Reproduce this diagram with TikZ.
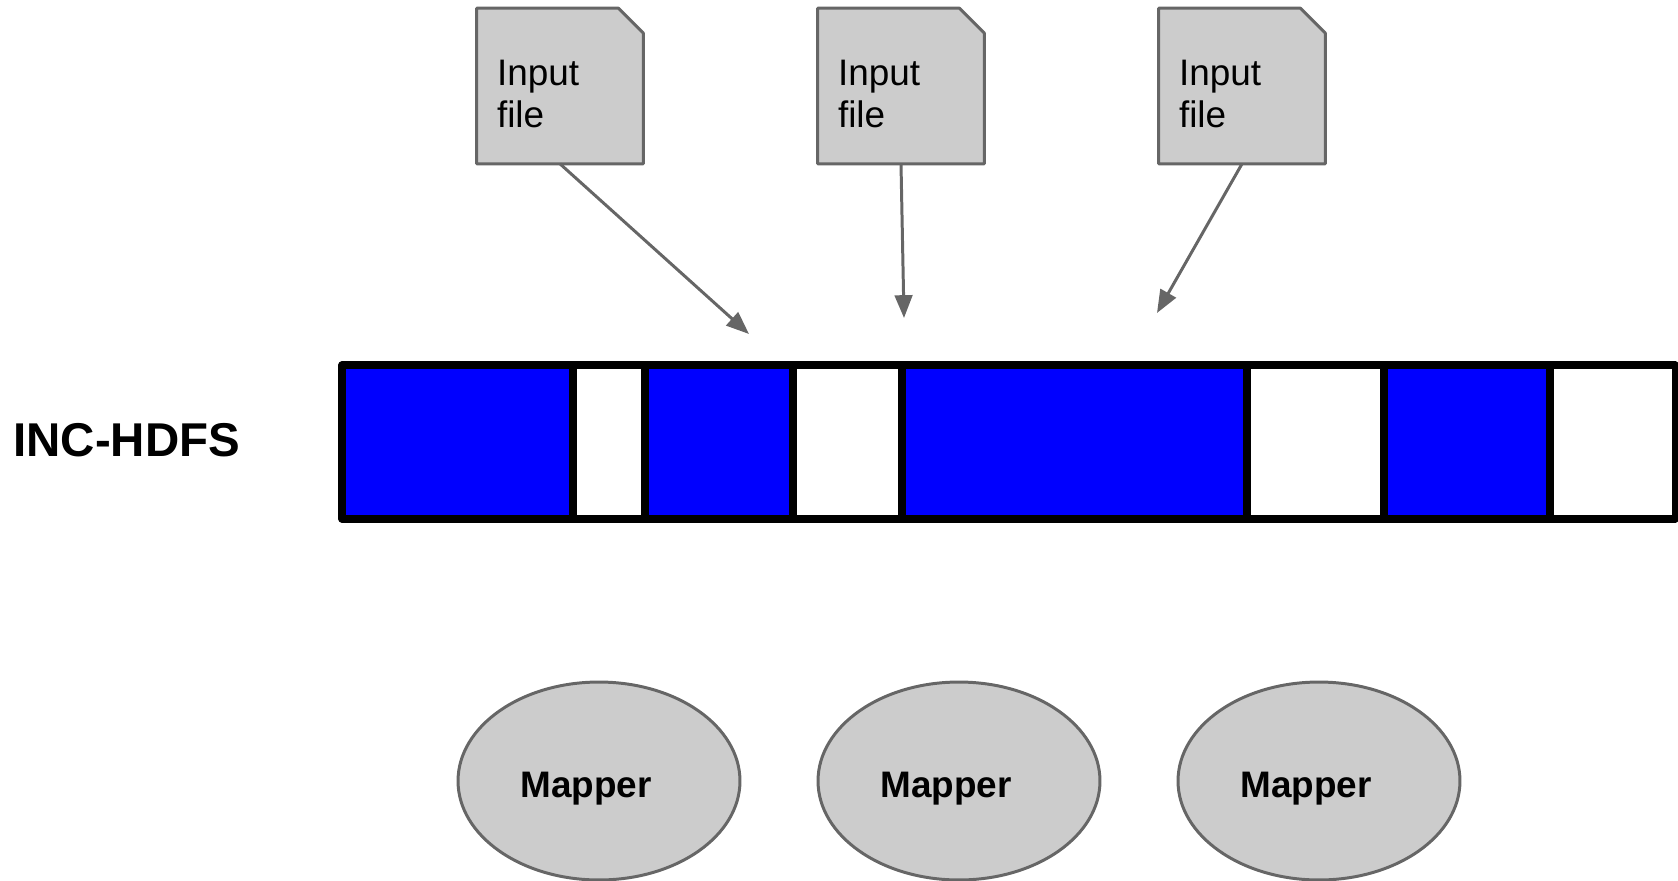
\documentclass[tikz,border=0pt]{standalone}
\usepackage{fontspec}
\setmainfont{Liberation Sans}
\usetikzlibrary{shapes.geometric, arrows.meta}

\definecolor{boxgray}{HTML}{CCCCCC}
\definecolor{linegray}{HTML}{666666}
\definecolor{blockblue}{HTML}{0000FF}

\begin{document}
\begin{tikzpicture}[x=0.02cm, y=-0.02cm,
    file/.style={rectangle, inner sep=0pt, minimum width=3.32cm, minimum height=3.1cm},
    fileline/.style={draw=linegray, fill=boxgray, line width=1.7pt, line join=round},
    filetext/.style={inner sep=0pt, align=left, font=\fontsize{21}{23.8}\selectfont},
    mapper/.style={ellipse, draw=linegray, fill=boxgray, line width=1.7pt,
        minimum width=5.64cm, minimum height=3.96cm},
    mappertext/.style={font=\fontsize{21}{24}\selectfont\bfseries, xshift=-0.26cm, yshift=-0.16cm},
    cell/.style={draw=black, line width=4pt, line join=round},
    feed/.style={draw=linegray, line width=1.7pt, -{Triangle[length=13pt, width=10pt]}}]
    \useasboundingbox (0,0) rectangle (1678,880);

    % input files on top, with a folded corner
    \foreach \i/\x in {1/560, 2/901, 3/1242} {
        \node[file] (file\i) at (\x,86) {};
        \filldraw[fileline] (file\i.south west) -- (file\i.north west)
            -- ([xshift=-0.5cm]file\i.north east) -- ([yshift=-0.5cm]file\i.north east)
            -- (file\i.south east) -- cycle;
        \node[filetext, anchor=north west] (name\i) at ([shift={(20,52)}]file\i.north west) {Input\\file};
    }

    % block layout of the file system
    \node[inner sep=0pt, anchor=west, font=\fontsize{27}{30}\selectfont\bfseries] (hdfs) at (13,440) {INC-HDFS};
    \foreach \a/\b/\c in {342/573/blockblue, 573/645/white, 645/793/blockblue, 793/902/white,
        902/1247/blockblue, 1247/1384/white, 1384/1550/blockblue, 1550/1675/white}
        \draw[cell, fill=\c] (\a,365) rectangle (\b,519);

    % where the files land
    \coordinate (tip1) at (749,334);
    \coordinate (tip2) at (904,318);
    \coordinate (tip3) at (1157,313);
    \draw[feed] (file1.south) -- (tip1);
    \draw[feed] (file2.south) -- (tip2);
    \draw[feed] (file3.south) -- (tip3);

    % mappers
    \node[mapper, label={[mappertext]center:Mapper}] (map1) at (599,781) {};
    \node[mapper, label={[mappertext]center:Mapper}] (map2) at (959,781) {};
    \node[mapper, label={[mappertext]center:Mapper}] (map3) at (1319,781) {};
\end{tikzpicture}
\end{document}
